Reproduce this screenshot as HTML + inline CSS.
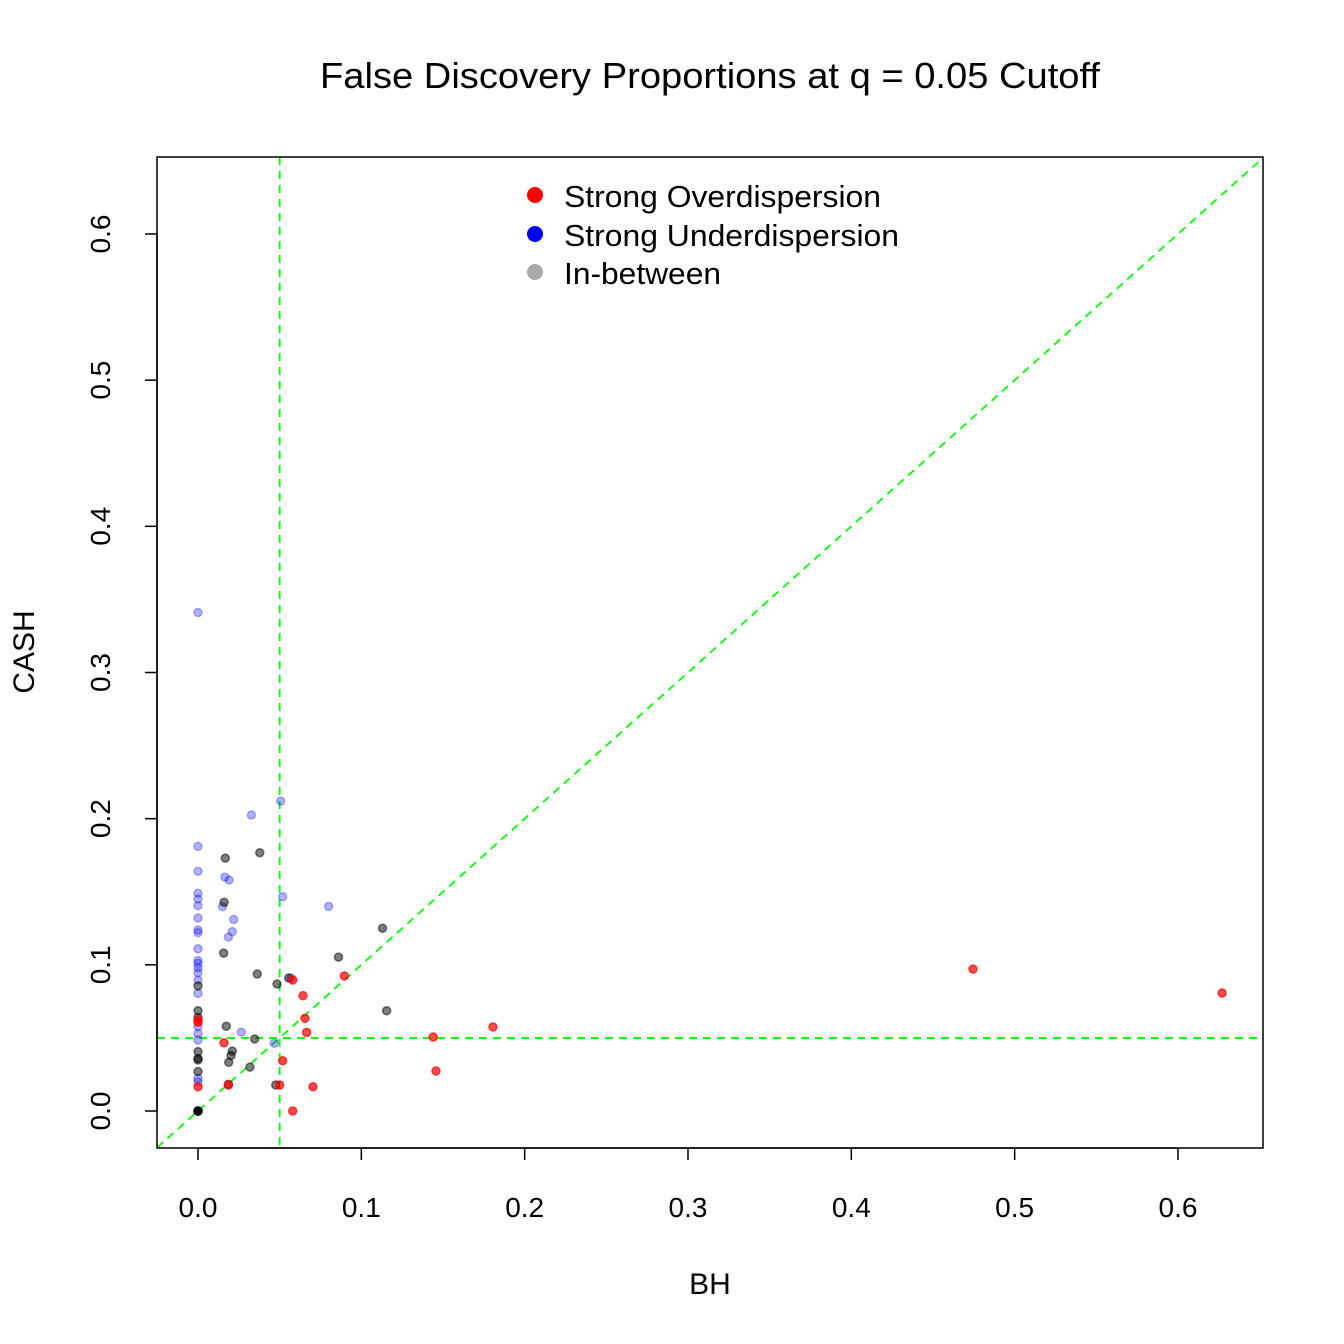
<!DOCTYPE html>
<html><head><meta charset="utf-8"><style>
html,body{margin:0;padding:0;background:#fff}
svg{display:block;font-family:"Liberation Sans",Arial,sans-serif}
</style></head><body>
<svg id="chart" width="1344" height="1344" viewBox="0 0 1344 1344" xmlns="http://www.w3.org/2000/svg">
<rect width="1344" height="1344" fill="#fff"/>
<text x="710" y="88" font-size="36" text-anchor="middle" textLength="780" lengthAdjust="spacingAndGlyphs">False Discovery Proportions at q = 0.05 Cutoff</text>
<text x="710" y="1294" font-size="30" text-anchor="middle">BH</text>
<text transform="translate(34,652) rotate(-90)" font-size="30" text-anchor="middle">CASH</text>
<g id="ticks"></g>
<g id="refs"></g>
<g id="pts"></g>
<rect x="157" y="157" width="1106" height="991" fill="none" stroke="#000" stroke-width="1.5"/>
<g>
<circle cx="535" cy="195" r="8" fill="#f00"/>
<text x="564" y="207" font-size="31" textLength="317" lengthAdjust="spacingAndGlyphs">Strong Overdispersion</text>
<circle cx="535" cy="234" r="8" fill="#00f"/>
<text x="564" y="246" font-size="31" textLength="335" lengthAdjust="spacingAndGlyphs">Strong Underdispersion</text>
<circle cx="535" cy="272" r="8" fill="#aaa"/>
<text x="564" y="284" font-size="31" textLength="157" lengthAdjust="spacingAndGlyphs">In-between</text>
</g>
</svg>
<script>
const tickValues=[0,0.1,0.2,0.3,0.4,0.5,0.6];
const tickLabels=["0.0","0.1","0.2","0.3","0.4","0.5","0.6"];
const overX=[0.058,0.0896,0.0643,0.0655,0.0665,0.0159,0.0518,0.050,0.0186,0.0704,0.058,0,0,0,0.144,0.1457,0.1806,0.4745,0.627];
const overY=[0.0896,0.0924,0.0789,0.0634,0.0538,0.0467,0.0344,0.0178,0.0178,0.0166,0,0.0622,0.0607,0.0166,0.0506,0.0274,0.0575,0.0971,0.0807];
const underX=[0.0506,0.0327,0,0,0,0,0,0.0165,0.019,0.0518,0.080,0.015,0.0218,0.021,0.0186,0,0,0,0,0,0,0,0,0,0,0.0265,0.0467,0,0,0,0,0,0.057,0,0,0];
const underY=[0.212,0.2025,0.181,0.164,0.149,0.145,0.1405,0.160,0.158,0.1466,0.140,0.1398,0.131,0.1227,0.119,0.132,0.1238,0.122,0.111,0.103,0.101,0.098,0.0946,0.0896,0.0805,0.054,0.0463,0.0577,0.053,0.0486,0.0224,0.020,0.091,0.341,0,0];
const betweenX=[0.0167,0.0378,0.016,0.0157,0.113,0.086,0.0363,0.0484,0.0555,0.1155,0.0173,0.0347,0.021,0.0202,0.0188,0.0318,0.0186,0.0476,0,0,0,0,0,0,0,0,0,0,0];
const betweenY=[0.173,0.1767,0.1428,0.108,0.125,0.1053,0.0937,0.0869,0.091,0.0686,0.058,0.0493,0.041,0.038,0.0333,0.030,0.0183,0.0178,0.0686,0.0856,0.0406,0.036,0.035,0.027,0,0,0,0,0.064];
const X=v=>198+v*1633.3, Y=v=>1111-v*1461.7;
const NS="http://www.w3.org/2000/svg";
function mk(tag,attrs,parent,text){const e=document.createElementNS(NS,tag);for(const k in attrs)e.setAttribute(k,attrs[k]);if(text!==undefined)e.textContent=text;parent.appendChild(e);return e;}
const tg=document.getElementById('ticks');
tickValues.forEach((v,i)=>{
 let l=mk('line',{x1:X(v),x2:X(v),y1:1148,y2:1160,stroke:'#000','stroke-width':1.5},tg);
 
 
 let t=mk('text',{x:X(v),y:1217,'font-size':28,'text-anchor':'middle'},tg,tickLabels[i]);
 
 
 let l2=mk('line',{x1:145,x2:157,y1:Y(v),y2:Y(v),stroke:'#000','stroke-width':1.5},tg);
 
 
 let t2=mk('text',{transform:`translate(110,${Y(v)}) rotate(-90)`,'font-size':28,'text-anchor':'middle'},tg,tickLabels[i]);
 
 
});
mk('line',{x1:X(0),x2:X(0.6),y1:1148,y2:1148,stroke:'#000','stroke-width':1.5},tg);
mk('line',{x1:157,x2:157,y1:Y(0),y2:Y(0.6),stroke:'#000','stroke-width':1.5},tg);
const rg=document.getElementById('refs');
const ds={stroke:'#00ff00','stroke-width':1.8,'stroke-dasharray':'8,6'};
let a=mk('line',Object.assign({x1:X(0.05),x2:X(0.05),y1:157,y2:1148},ds),rg);


let b=mk('line',Object.assign({x1:157,x2:1263,y1:Y(0.05),y2:Y(0.05)},ds),rg);


const lo=(157-198)/1633.3, hi=(1263-198)/1633.3;
let c=mk('line',Object.assign({x1:X(lo),y1:Y(lo),x2:X(hi),y2:Y(hi)},ds),rg);


const pg=document.getElementById('pts');
function series(xs,ys,fill,name){xs.forEach((x,i)=>{const p=mk('circle',{cx:X(x),cy:Y(ys[i]),r:4,fill:fill,stroke:fill,'stroke-width':1.5},pg);
 
 });}
series(underX,underY,'rgba(0,0,255,0.3)','point-underdispersion');
series(betweenX,betweenY,'rgba(0,0,0,0.5)','point-in-between');
series(overX,overY,'rgba(255,0,0,0.7)','point-overdispersion');
</script>
</body></html>
